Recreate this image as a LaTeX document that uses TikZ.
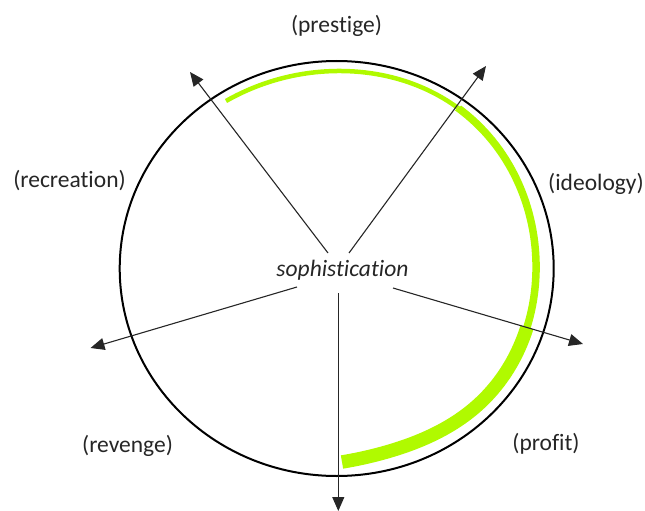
\documentclass[tikz,border=0pt]{standalone}
\usepackage{fontspec}
\setmainfont{Carlito}[Ligatures=NoCommon]
\usetikzlibrary{arrows.meta,hobby}
\definecolor{lime}{RGB}{176,250,0}
\definecolor{ink}{RGB}{38,38,38}
\begin{document}
\begin{tikzpicture}[x=1pt,y=-1pt,
  tag/.style={font=\fontsize{23.5}{28}\selectfont, text=ink, inner sep=0pt},
  spoke/.style={draw=ink, line width=1.1pt, -{Triangle[length=14pt,width=12pt]}},
  band/.style={draw=lime, line cap=butt, line join=round}]
\useasboundingbox (0,0) rectangle (645,511);

% outer ring
\draw[line width=2pt] (336.7,268.5) ellipse [x radius=217pt, y radius=207.5pt];

% green band: one smooth track, drawn in three widths
\def\track{(226,101) .. (337,71) .. (458,108) .. (536,272) .. (480,403) ..
  (383,453) .. (342,462)}
\begin{scope}
  \clip (298,228) -- (538,48) -- (538,0) -- (0,0) -- (0,228) -- cycle;
  \draw[band, line width=4.5pt, use Hobby shortcut] \track;
\end{scope}
\begin{scope}
  \clip (298,228) -- (538,48) -- (640,48) -- (640,363) -- (239,237) -- cycle;
  \draw[band, line width=7.5pt, use Hobby shortcut] \track;
\end{scope}
\begin{scope}
  \clip (239,237) -- (640,363) -- (640,520) -- (239,520) -- cycle;
  \draw[band, line width=13.5pt, use Hobby shortcut] \track;
\end{scope}

% centre and labels
\node[tag, font=\fontsize{23.5}{28}\selectfont\itshape] (soph) at (342.5,270) {sophistication};
\node[tag] (prestige) at (336.5,26) {(prestige)};
\node[tag] (recreation) at (69.5,181) {(recreation)};
\node[tag] (ideology) at (596,184) {(ideology)};
\node[tag] (revenge) at (127.5,446) {(revenge)};
\node[tag] (profit) at (546,443.5) {(profit)};

% spokes
\coordinate (s1) at (328,253);   \coordinate (t1) at (190,72);
\coordinate (s2) at (349,253);   \coordinate (t2) at (486,66);
\coordinate (s3) at (297,287);   \coordinate (t3) at (90.5,348);
\coordinate (s4) at (393,288);   \coordinate (t4) at (583,344);
\coordinate (s5) at (338.3,293); \coordinate (t5) at (338.3,511);
\foreach \i in {1,...,5}{\draw[spoke] (s\i) -- (t\i);}
\end{tikzpicture}
\end{document}
